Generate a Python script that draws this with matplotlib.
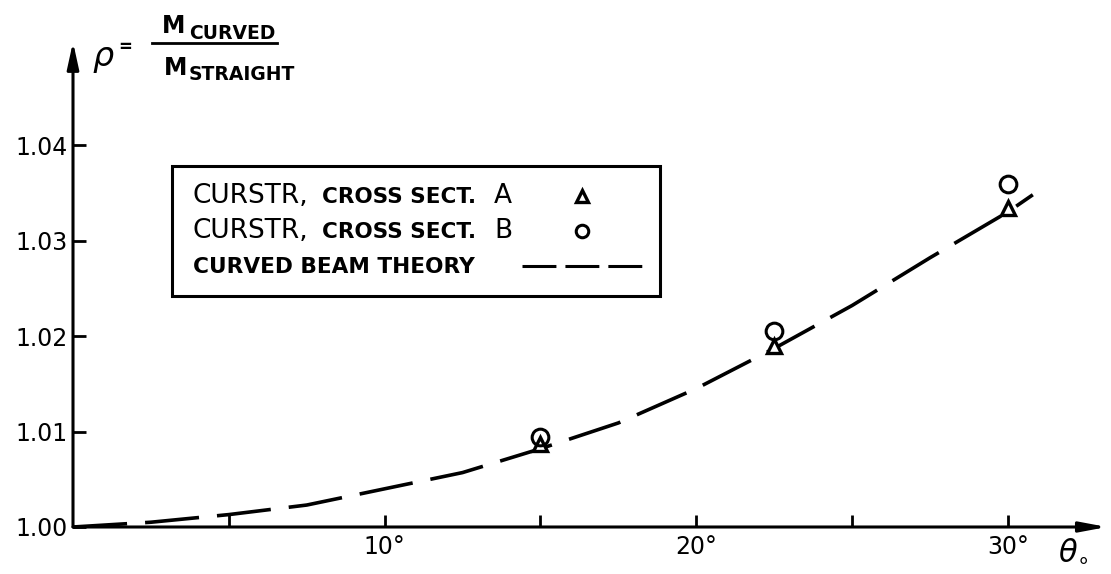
import matplotlib.pyplot as plt
from matplotlib.patches import Rectangle
from matplotlib.lines import Line2D

# curved beam theory (dashed curve)
theta_theory = [0, 2.5, 5, 7.5, 10, 12.5, 15, 17.5, 20, 22.5, 25, 27.5, 30, 30.8]
rho_theory = [1.0000, 1.0005, 1.0013, 1.0023, 1.0040, 1.0057, 1.0082, 1.0109,
              1.0145, 1.0187, 1.0232, 1.0282, 1.0330, 1.0348]

# CURSTR results
theta_pts = [15, 22.5, 30]
rho_A = [1.0087, 1.0190, 1.0334]
rho_B = [1.0094, 1.0205, 1.0359]

xticks = [5, 10, 15, 20, 25, 30]
xlabels = {10: "10°", 20: "20°", 30: "30°"}
yticks = [1.00, 1.01, 1.02, 1.03, 1.04]

W, H = 1111, 574
def fx(x):
    return x / W
def fy(y):
    return 1 - y / H

fig = plt.figure(figsize=(W / 100, H / 100), dpi=100)
ax = fig.add_axes([fx(73), fy(527), fx(1107) - fx(73), fy(42) - fy(527)])
ax.set_xlim(0, 33.18)
ax.set_ylim(1.0, 1.0508)
for s in ax.spines.values():
    s.set_visible(False)
ax.patch.set_alpha(0)

# axes drawn as arrows
ax.annotate("", xy=(1, 0), xytext=(0, 0), xycoords="axes fraction",
            arrowprops=dict(arrowstyle="-|>,head_length=1.6,head_width=0.3",
                            lw=2.2, color="black", shrinkA=0, shrinkB=0))
ax.annotate("", xy=(0, 1), xytext=(0, 0), xycoords="axes fraction",
            arrowprops=dict(arrowstyle="-|>,head_length=1.6,head_width=0.35",
                            lw=2.2, color="black", shrinkA=0, shrinkB=0))

ax.set_xticks(xticks)
ax.set_xticklabels([xlabels.get(t, "") for t in xticks])
ax.set_yticks(yticks)
ax.set_yticklabels(["%.2f" % v for v in yticks])
ax.tick_params(direction="in", length=9, width=2, labelsize=17, pad=6)
ax.tick_params(axis="y", pad=4)

ax.plot(theta_theory, rho_theory, color="black", lw=2.6,
        dashes=(15, 5.0), solid_capstyle="butt", clip_on=False)
ax.plot(theta_pts, rho_A, ls="none", marker="^", ms=10, mfc="white",
        mec="black", mew=2.4, clip_on=False)
ax.plot(theta_pts, rho_B, ls="none", marker="o", ms=12, mfc="none",
        mec="black", mew=2.2, clip_on=False)

# axis titles
fig.text(fx(1058), fy(560), r"$\theta_{\circ}$", fontsize=22, ha="left", va="baseline")
fig.text(fx(92), fy(66), r"$\rho$", fontsize=24, ha="left", va="baseline")
fig.text(fx(118), fy(52), "=", fontsize=12, ha="left", va="baseline", weight="bold")
fig.add_artist(Line2D([fx(152), fx(277)], [fy(43), fy(43)], color="black", lw=2))
fig.text(fx(162), fy(33), "M", fontsize=17, ha="left", va="baseline", weight="bold")
fig.text(fx(189), fy(39), "CURVED", fontsize=13.5, ha="left", va="baseline", weight="bold")
fig.text(fx(164), fy(75), "M", fontsize=17, ha="left", va="baseline", weight="bold")
fig.text(fx(189), fy(80), "STRAIGHT", fontsize=13.5, ha="left", va="baseline", weight="bold")

# legend box
fig.add_artist(Rectangle((fx(172), fy(296)), fx(660) - fx(172), fy(166) - fy(296),
                         fill=False, lw=2.2, ec="black", transform=fig.transFigure))
rows = [fy(203), fy(238), fy(273)]
for i, letter in enumerate(["A", "B"]):
    fig.text(fx(193), rows[i], "CURSTR,", fontsize=19, ha="left", va="baseline")
    fig.text(fx(322), rows[i], "CROSS SECT.", fontsize=15.5, ha="left", va="baseline", weight="bold")
    fig.text(fx(494), rows[i], letter, fontsize=19, ha="left", va="baseline")
fig.text(fx(193), rows[2], "CURVED BEAM THEORY", fontsize=15.6, ha="left", va="baseline", weight="bold")
fig.add_artist(Line2D([fx(582)], [fy(196)], marker="^", ms=8, mfc="white", mec="black", mew=2.4))
fig.add_artist(Line2D([fx(582)], [fy(231)], marker="o", ms=9, mfc="none", mec="black", mew=2.2))
fig.add_artist(Line2D([fx(522), fx(642)], [fy(266), fy(266)], color="black", lw=2.2,
                      dashes=(11.1, 2.95)))

fig.savefig("out.png", dpi=100)
